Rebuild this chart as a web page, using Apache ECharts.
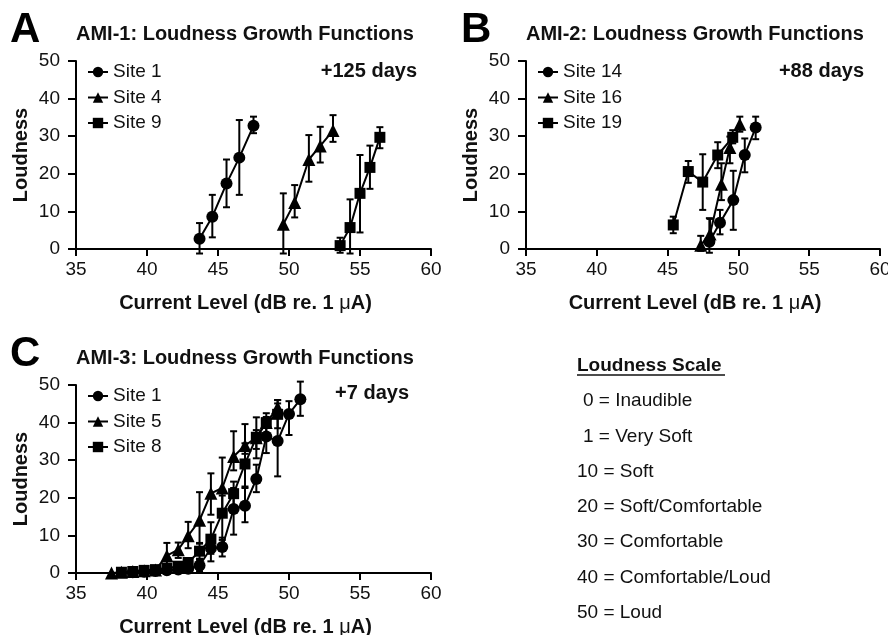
<!DOCTYPE html>
<html><head><meta charset="utf-8">
<script src="https://cdn.jsdelivr.net/npm/echarts@6/dist/echarts.min.js"></script>
<style>html,body{margin:0;padding:0;background:#fff}#c{width:888px;height:635px}</style>
</head><body><div id="c"></div><script>
// ---- Data: each point is [current level (dB), loudness, error low, error high]
const A_site1 = [[43.7,2.7,-1.2,6.9],[44.6,8.6,3.1,14.4],[45.6,17.4,11.1,23.8],[46.5,24.3,14.4,34.3],[47.5,32.8,30.8,35.2]];
const A_site4 = [[49.6,6.6,-1.2,14.8],[50.4,12.4,8.4,17.0],[51.4,23.8,17.9,30.3],[52.2,27.4,23.0,32.5],[53.1,31.5,28.5,35.6]];
const A_site9 = [[53.6,0.9,-1.0,3.0],[54.3,5.7,-1.2,13.2],[55.0,14.8,4.4,25.0],[55.7,21.7,16.0,27.5],[56.4,29.7,26.8,32.4]];

const B_site14 = [[47.95,1.9,-1.0,8.2],[48.7,7.0,3.9,10.4],[49.64,13.0,5.1,20.8],[50.45,25.0,20.4,29.4],[51.22,32.3,29.2,35.2]];
const B_site16 = [[47.34,1.0,-0.5,3.5],[48.0,4.0,1.5,8.0],[48.8,17.2,13.0,22.8],[49.4,27.0,22.8,29.9],[50.1,33.2,31.2,35.2]];
const B_site19 = [[45.4,6.4,4.2,8.6],[46.46,20.6,17.6,23.4],[47.48,17.8,10.4,25.2],[48.54,25.0,21.5,28.4],[49.6,29.7,28.1,31.6]];

const C_site1 = [[39.0,0.2,0.2,0.2],[39.8,0.3,0.3,0.3],[40.6,0.5,0.5,0.5],[41.4,0.7,0.7,0.7],[42.2,0.9,0.9,0.9],[42.9,1.1,1.1,1.1],[43.7,2.0,0.5,3.5],[44.5,6.6,3.1,9.0],[45.3,6.9,4.4,9.4],[46.1,17.0,10.2,22.6],[46.9,17.9,13.5,22.6],[47.7,25.0,21.5,28.8],[48.4,36.3,31.9,38.9],[49.2,35.1,25.7,45.1],[50.0,42.3,36.7,45.7],[50.8,46.2,41.8,50.9]];
const C_site5 = [[37.5,0.0,0.0,0.0],[38.2,0.2,0.2,0.2],[39.0,0.4,0.4,0.4],[39.8,0.6,0.6,0.6],[40.6,0.8,0.8,0.8],[41.4,4.6,1.8,8.0],[42.2,6.2,4.0,8.1],[42.9,9.9,6.6,13.6],[43.7,14.0,8.0,21.5],[44.5,21.2,15.5,26.5],[45.3,22.6,15.0,30.7],[46.1,31.0,27.3,37.7],[46.9,33.9,31.7,39.6],[47.7,36.0,33.0,41.4],[48.4,40.0,39.0,41.5],[49.2,44.0,43.0,46.0]];
const C_site8 = [[38.2,0.2,0.2,0.2],[39.0,0.4,0.4,0.4],[39.8,0.7,0.7,0.7],[40.6,0.9,0.9,0.9],[41.4,1.3,1.3,1.3],[42.2,1.8,1.8,1.8],[42.9,2.8,1.8,3.8],[43.7,5.8,3.8,7.8],[44.5,9.0,5.1,13.5],[45.3,15.9,8.8,20.6],[46.1,21.1,17.7,24.3],[46.9,29.0,23.0,34.5],[47.7,36.1,30.5,38.0],[48.4,40.0,37.2,42.5],[49.2,42.2,38.5,46.0]];

const panelLetters = ['A','B','C'];
const panelTitles = ['AMI-1: Loudness Growth Functions','AMI-2: Loudness Growth Functions','AMI-3: Loudness Growth Functions'];
const panelDays = ['+125 days','+88 days','+7 days'];
const panelSiteNames = [['Site 1','Site 4','Site 9'],['Site 14','Site 16','Site 19'],['Site 1','Site 5','Site 8']];
const panelSiteData = [[A_site1,A_site4,A_site9],[B_site14,B_site16,B_site19],[C_site1,C_site5,C_site8]];
const xTicks = {min:35, max:60, interval:5};
const yTicks = {min:0, max:50, interval:10};
const scaleTitle = 'Loudness Scale';
const scaleValues = [0,1,10,20,30,40,50];
const scaleLabels = ['Inaudible','Very Soft','Soft','Soft/Comfortable','Comfortable','Comfortable/Loud','Loud'];

// ---- Layout
const FONT = 'Liberation Sans, Arial, sans-serif';
const INK = '#111';
const grids = [
  {left:76, top:61, width:355, height:188},
  {left:526, top:61, width:354, height:188},
  {left:76, top:385, width:355, height:188}
];
const symbols = ['circle','triangle','rect'];
const symSizes = [12,13,11];

const chart = echarts.init(document.getElementById('c'), null, {renderer:'canvas'});

const option = {
  animation:false,
  backgroundColor:'#fff',
  grid: grids.map(g => Object.assign({containLabel:false, outerBoundsMode:'none'}, g)),
  xAxis: grids.map((g,i) => ({
    gridIndex:i, type:'value', min:xTicks.min, max:xTicks.max, interval:xTicks.interval,
    axisLine:{onZero:false, lineStyle:{color:'#000', width:2}},
    axisTick:{show:true, length:7, lineStyle:{color:'#000', width:2}},
    axisLabel:{fontSize:19, color:INK, margin:11, fontFamily:FONT},
    splitLine:{show:false},
    name:'{b|Current Level (dB re. 1 }{m|\u03bc}{b|A)}',
    nameLocation:'middle', nameGap:44,
    nameTextStyle:{padding:[0,16,0,0], rich:{
      b:{fontSize:20, fontWeight:'bold', color:INK, fontFamily:FONT},
      m:{fontSize:20, fontWeight:'normal', color:INK, fontFamily:FONT}
    }}
  })),
  yAxis: grids.map((g,i) => ({
    gridIndex:i, type:'value', min:yTicks.min, max:yTicks.max, interval:yTicks.interval,
    axisLine:{show:true, lineStyle:{color:'#000', width:2}},
    axisTick:{show:true, length:8, lineStyle:{color:'#000', width:2}},
    axisLabel:{fontSize:19, color:INK, margin:16, fontFamily:FONT},
    splitLine:{show:false},
    name:'Loudness', nameLocation:'middle', nameGap:45, nameRotate:90,
    nameTextStyle:{fontSize:20, fontWeight:'bold', color:INK, fontFamily:FONT}
  })),
  legend: grids.map((g,i) => ({
    orient:'vertical', left:g.left+6, top:g.top-4,
    itemWidth:20, itemHeight:13, itemGap:5.5, selectedMode:false,
    data:panelSiteNames[i],
    textStyle:{fontSize:19, color:INK, fontFamily:FONT, lineHeight:20}
  })),
  series: [],
  graphic: []
};

function errRender(params, api){
  const x = api.value(0), lo = api.value(2), hi = api.value(3);
  if (hi - lo < 0.05) return null;
  const p1 = api.coord([x, lo]), p2 = api.coord([x, hi]);
  const w = 3.5, st = {stroke:'#000', lineWidth:2};
  return {type:'group', children:[
    {type:'line', shape:{x1:p1[0], y1:p1[1], x2:p2[0], y2:p2[1]}, style:st},
    {type:'line', shape:{x1:p2[0]-w, y1:p2[1], x2:p2[0]+w, y2:p2[1]}, style:st},
    {type:'line', shape:{x1:p1[0]-w, y1:p1[1], x2:p1[0]+w, y2:p1[1]}, style:st}
  ]};
}

panelSiteData.forEach((sites, i) => {
  sites.forEach((pts, k) => {
    option.series.push({
      type:'custom', name:'err'+i+'_'+k, xAxisIndex:i, yAxisIndex:i,
      renderItem:errRender, data:pts, encode:{x:0, y:[2,3]}, z:2, clip:false
    });
    option.series.push({
      type:'line', name:panelSiteNames[i][k], xAxisIndex:i, yAxisIndex:i,
      data:pts.map(p => [p[0], p[1]]),
      symbol:symbols[k], symbolSize:symSizes[k], showAllSymbol:true,
      lineStyle:{color:'#000', width:2}, itemStyle:{color:'#000'},
      z:3
    });
  });
});

// Panel letters, titles and day labels
const letterPos = [[10,30],[461,30],[10,354]];
const titlePos = [[76,34],[526,34],[76,358]];
const daysPos = [[417,71],[864,71],[409,393]];
for (let i=0;i<3;i++){
  option.graphic.push({type:'text', left:letterPos[i][0], top:letterPos[i][1]-21, style:{text:panelLetters[i], fontSize:42, fontWeight:'bold', fontFamily:FONT, fill:'#000'}});
  option.graphic.push({type:'text', x:titlePos[i][0], y:titlePos[i][1], style:{text:panelTitles[i], fontSize:20, fontWeight:'bold', fontFamily:FONT, fill:INK, align:'left', verticalAlign:'middle'}});
  option.graphic.push({type:'text', x:daysPos[i][0], y:daysPos[i][1], style:{text:panelDays[i], fontSize:20, fontWeight:'bold', fontFamily:FONT, fill:INK, align:'right', verticalAlign:'middle'}});
}

// Loudness scale key
option.graphic.push({type:'text', x:577, y:366, style:{text:scaleTitle, fontSize:19, fontWeight:'bold', fontFamily:FONT, fill:INK, align:'left', verticalAlign:'middle'}});
option.graphic.push({type:'line', shape:{x1:577, y1:375, x2:725, y2:375}, style:{stroke:INK, lineWidth:1.5}});
scaleValues.forEach((v, j) => {
  option.graphic.push({type:'text', x:577 + (v < 10 ? 6 : 0), y:401 + j*35.3, style:{text:v + ' = ' + scaleLabels[j], fontSize:19, fontFamily:FONT, fill:INK, align:'left', verticalAlign:'middle'}});
});

chart.setOption(option);
</script></body></html>
